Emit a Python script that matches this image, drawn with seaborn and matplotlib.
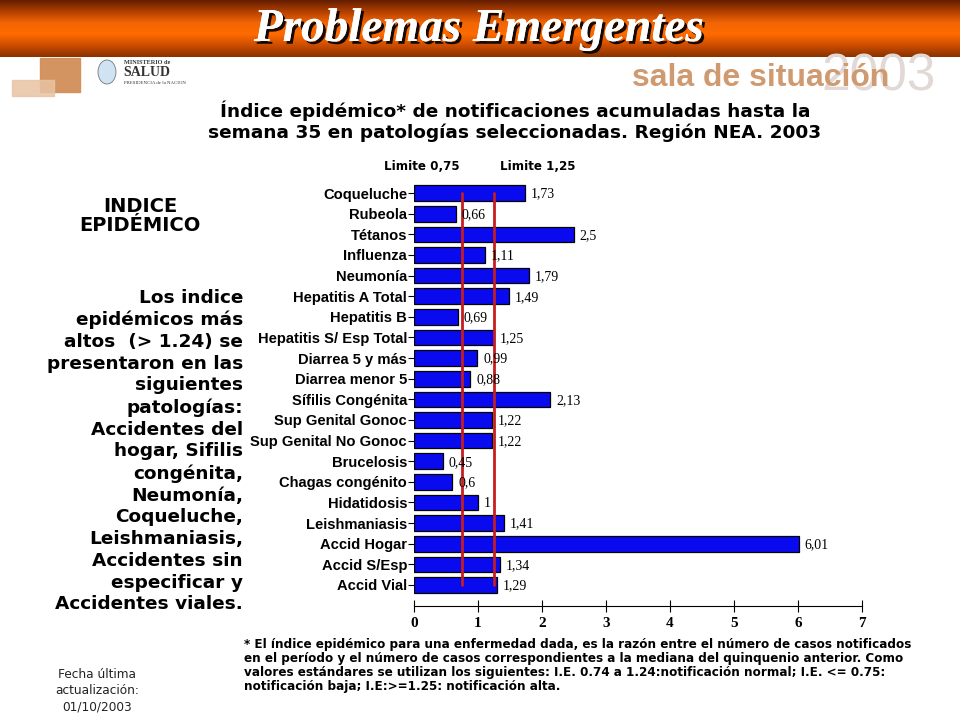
import numpy as np
import matplotlib
matplotlib.use("Agg")
import matplotlib.pyplot as plt
import matplotlib.patheffects as pe
from matplotlib.patches import Rectangle, Ellipse
import pandas as pd
import seaborn as sns

# Datos del gráfico
patologias = ["Coqueluche", "Rubeola", "Tétanos", "Influenza", "Neumonía",
              "Hepatitis A Total", "Hepatitis B", "Hepatitis S/ Esp Total",
              "Diarrea 5 y más", "Diarrea menor 5", "Sífilis Congénita",
              "Sup Genital Gonoc", "Sup Genital No Gonoc", "Brucelosis",
              "Chagas congénito", "Hidatidosis", "Leishmaniasis",
              "Accid Hogar", "Accid S/Esp", "Accid Vial"]
indices = [1.73, 0.66, 2.5, 1.11, 1.79, 1.49, 0.69, 1.25, 0.99, 0.88, 2.13,
           1.22, 1.22, 0.45, 0.6, 1, 1.41, 6.01, 1.34, 1.29]
etiquetas = ["1,73", "0,66", "2,5", "1,11", "1,79", "1,49", "0,69", "1,25",
             "0,99", "0,88", "2,13", "1,22", "1,22", "0,45", "0,6", "1",
             "1,41", "6,01", "1,34", "1,29"]
limites = [0.75, 1.25]

df = pd.DataFrame({"patologia": patologias, "indice": indices})

sns.set_style("white")
plt.rcParams["font.family"] = ["DejaVu Sans"]
plt.rcParams["text.color"] = "black"
plt.rcParams["xtick.color"] = "black"
plt.rcParams["ytick.color"] = "black"

W, H = 960, 720
fig = plt.figure(figsize=(9.6, 7.2), dpi=100)


def fx(x):
    return x / W


def fy(y):
    return 1 - y / H


# Encabezado con degradado naranja
hdr = fig.add_axes([0, fy(57), 1, 57 / H])
grad = np.array([[0.40, 0.12, 0.0], [0.70, 0.25, 0.0], [0.95, 0.40, 0.02],
                 [1.0, 0.42, 0.0], [0.80, 0.30, 0.0], [0.55, 0.20, 0.0]])
t = np.linspace(0, 1, 60)
img = np.stack([np.interp(t, np.linspace(0, 1, len(grad)), grad[:, k]) for k in range(3)], axis=-1)
hdr.imshow(img[:, None, :].repeat(10, axis=1), aspect="auto", extent=[0, 1, 1, 0])
hdr.axis("off")
fig.text(fx(479), fy(30), "Problemas Emergentes", ha="center", va="center",
         color="white", fontsize=34, fontweight="bold", style="italic",
         family="Liberation Serif",
         path_effects=[pe.withSimplePatchShadow(offset=(2, -2), shadow_rgbFace="black", alpha=0.9),
                       pe.Normal()])

# Logos aproximados
fig.patches.append(Rectangle((fx(40), fy(92)), 40 / W, 34 / H, transform=fig.transFigure,
                             color="#d28e58", alpha=0.95))
fig.patches.append(Rectangle((fx(12), fy(96)), 42 / W, 16 / H, transform=fig.transFigure,
                             color="#e8c4a4", alpha=0.85))
fig.patches.append(Ellipse((fx(107), fy(72)), 18 / W, 24 / H, transform=fig.transFigure,
                           facecolor="#cfe3f2", edgecolor="#777777", linewidth=0.6))
fig.text(fx(124), fy(63), "MINISTERIO de", fontsize=4.5, color="#333333", va="center",
         family="Liberation Serif", fontweight="bold")
fig.text(fx(123), fy(73), "SALUD", fontsize=10, color="#333333", va="center",
         family="Liberation Serif", fontweight="bold")
fig.text(fx(124), fy(83), "PRESIDENCIA de la NACION", fontsize=3.5, color="#333333", va="center",
         family="Liberation Serif")
fig.text(fx(936), fy(77), "2003", ha="right", va="center", fontsize=37,
         color="#e2d9d7", family="Liberation Sans")
fig.text(fx(889), fy(78), "sala de situación", ha="right", va="center", fontsize=23,
         color="#d09a70", fontweight="bold", family="Liberation Sans")

# Título
fig.text(fx(515), fy(121), "Índice epidémico* de notificaciones acumuladas hasta la\n"
         "semana 35 en patologías seleccionadas. Región NEA. 2003",
         ha="center", va="center", fontsize=13.3, fontweight="bold", linespacing=1.2)

# Gráfico de barras
ax = fig.add_axes([fx(414), fy(606), (862 - 414) / W, (606 - 183) / H])
sns.barplot(data=df, x="indice", y="patologia", orient="h", color="#0a0aee",
            saturation=1, edgecolor="black", linewidth=0.9, width=0.76, ax=ax)
ax.set_xlim(0, 7)
ax.set_ylim(19 + 1.02, -0.49)
ax.set_xticks(range(8))
ax.set_xlabel("")
ax.set_ylabel("")
for s in ["top", "right", "left"]:
    ax.spines[s].set_visible(False)
ax.spines["bottom"].set_color("black")
ax.tick_params(axis="y", left=True, length=4, color="black", pad=1)
ax.tick_params(axis="x", bottom=True, direction="inout", length=8, color="black", pad=4)
for lab in ax.get_yticklabels():
    lab.set_fontfamily("Liberation Sans")
    lab.set_fontweight("bold")
    lab.set_fontsize(10.6)
for lab in ax.get_xticklabels():
    lab.set_fontfamily("Liberation Serif")
    lab.set_fontweight("bold")
    lab.set_fontsize(11)

for i, (v, txt) in enumerate(zip(indices, etiquetas)):
    ax.text(v + 0.09, i + 0.05, txt, va="center", ha="left", fontsize=10,
            family="Liberation Serif", color="black")

for lim in limites:
    ax.plot([lim, lim], [0, 19], color="#c41e1e", linewidth=2)

fig.text(fx(384), fy(167), "Limite 0,75", fontsize=8.6, fontweight="bold", va="center")
fig.text(fx(500), fy(167), "Limite 1,25", fontsize=8.6, fontweight="bold", va="center")

# Texto lateral
fig.text(fx(140), fy(216), "INDICE\nEPIDÉMICO", ha="center", va="center",
         fontsize=14, fontweight="bold", linespacing=1.05)
lateral = ("Los indice\nepidémicos más\naltos  (> 1.24) se\npresentaron en las\n"
           "siguientes\npatologías:\nAccidentes del\nhogar, Sifilis\ncongénita,\n"
           "Neumonía,\nCoqueluche,\nLeishmaniasis,\nAccidentes sin\nespecificar y\n"
           "Accidentes viales.")
fig.text(fx(243), fy(451), lateral, ha="right", va="center", fontsize=13.3,
         fontweight="bold", linespacing=1.27)

# Nota al pie
nota = ("* El índice epidémico para una enfermedad dada, es la razón entre el número de casos notificados\n"
        "en el período y el número de casos correspondientes a la mediana del quinquenio anterior. Como\n"
        "valores estándares se utilizan los siguientes: I.E. 0.74 a 1.24:notificación normal; I.E. <= 0.75:\n"
        "notificación baja; I.E:>=1.25: notificación alta.")
fig.text(fx(244), fy(638), nota, ha="left", va="top", fontsize=8.65,
         fontweight="bold", linespacing=1.1, color="black")

fig.text(fx(97), fy(691), "Fecha última\nactualización:\n01/10/2003", ha="center", va="center",
         fontsize=8.7, linespacing=1.35, color="#222222")

fig.savefig("out.png", dpi=100)
